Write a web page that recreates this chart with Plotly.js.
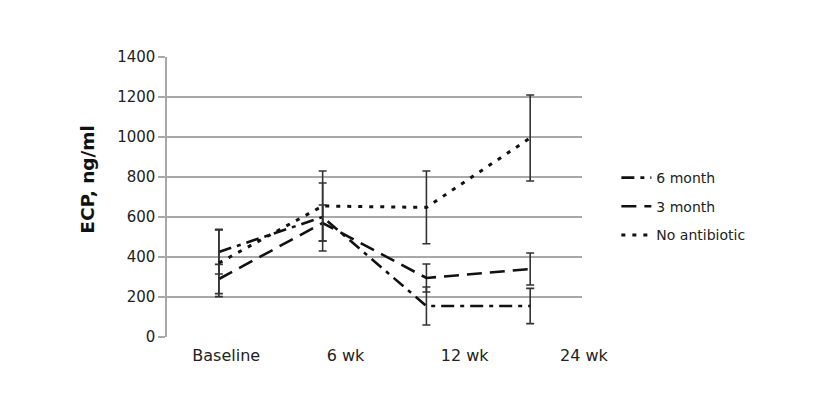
<!DOCTYPE html>
<html>
<head>
<meta charset="utf-8">
<script src="https://cdn.plot.ly/plotly-3.0.1.min.js"></script>
<style>html,body{margin:0;padding:0;background:#fff;}#chart{width:813px;height:395px;}</style>
</head>
<body>
<div id="chart"></div>
<script>
var categories = ['Baseline', '6 wk', '12 wk', '24 wk'];
var sixMonth = [425, 600, 155, 155];
var sixMonthErr = [110, 170, 95, 88];
var threeMonth = [290, 570, 295, 340];
var threeMonthErr = [73, 90, 70, 80];
var noAntibiotic = [370, 655, 648, 995];
var noAntibioticErr = [168, 175, 182, 215];
var yTicks = [0, 200, 400, 600, 800, 1000, 1200, 1400];

function errBar(arr) {
  return {type: 'data', array: arr, visible: true, color: '#333', thickness: 1.6, width: 4};
}

var traces = [
  {x: categories, y: sixMonth, name: '6 month', type: 'scatter', mode: 'lines',
   legendgroup: 'a', error_y: errBar(sixMonthErr),
   line: {color: '#111', width: 2.6, dash: '13px,6px,4px,6px'}},
  {x: categories, y: threeMonth, name: '3 month', type: 'scatter', mode: 'lines',
   legendgroup: 'b', error_y: errBar(threeMonthErr),
   line: {color: '#111', width: 2.6, dash: '15px,8px'}},
  {x: categories, y: noAntibiotic, name: 'No antibiotic', type: 'scatter', mode: 'lines',
   legendgroup: 'c', error_y: errBar(noAntibioticErr),
   line: {color: '#111', width: 3, dash: '4px,7px'}},
  {x: categories, y: [null, null, null, null], xaxis: 'x2', yaxis: 'y2', type: 'scatter',
   mode: 'lines', showlegend: false, hoverinfo: 'skip'}
];

var layout = {
  width: 813, height: 395,
  margin: {l: 167, r: 173, t: 57, b: 57.5},
  paper_bgcolor: '#fff', plot_bgcolor: 'rgba(0,0,0,0)',
  font: {family: 'DejaVu Sans, Verdana, sans-serif', color: '#222', size: 14},
  showlegend: true,
  legend: {x: 0.95, y: 0.625, xanchor: 'left', yanchor: 'top', traceorder: 'grouped',
           tracegroupgap: 7.5, bgcolor: 'rgba(0,0,0,0)', font: {size: 14, color: '#222'}},
  xaxis: {type: 'category', domain: [0, 0.8775], range: [-0.5, 3.5],
          showticklabels: false, ticks: '', showgrid: false, showline: false, zeroline: false},
  xaxis2: {type: 'category', domain: [0, 1], range: [-0.497, 3.47], anchor: 'y2',
           side: 'bottom', showgrid: false, showline: false, zeroline: false,
           ticks: 'outside', ticklen: 4, tickcolor: 'rgba(0,0,0,0)',
           tickfont: {size: 16, color: '#222'}},
  yaxis2: {domain: [0, 1], anchor: 'x2', range: [0, 1], visible: false,
           showgrid: false, zeroline: false},
  yaxis: {range: [0, 1400], tickvals: yTicks, ticktext: yTicks.map(String),
          showgrid: true, gridcolor: '#a8a8a8', gridwidth: 1.6,
          zeroline: true, zerolinecolor: 'rgba(0,0,0,0)',
          showline: true, linecolor: '#a8a8a8', linewidth: 1.6,
          ticks: 'outside', ticklen: 7, tickcolor: '#a8a8a8', tickwidth: 1.4,
          tickfont: {size: 15, color: '#222'},
          title: {text: '&nbsp;&nbsp;&nbsp;&nbsp;&nbsp;&nbsp;<b>ECP, ng/ml</b>', font: {size: 18.5, color: '#111'}, standoff: 18}}
};

Plotly.newPlot('chart', traces, layout, {displayModeBar: false, staticPlot: true});
</script>
</body>
</html>
